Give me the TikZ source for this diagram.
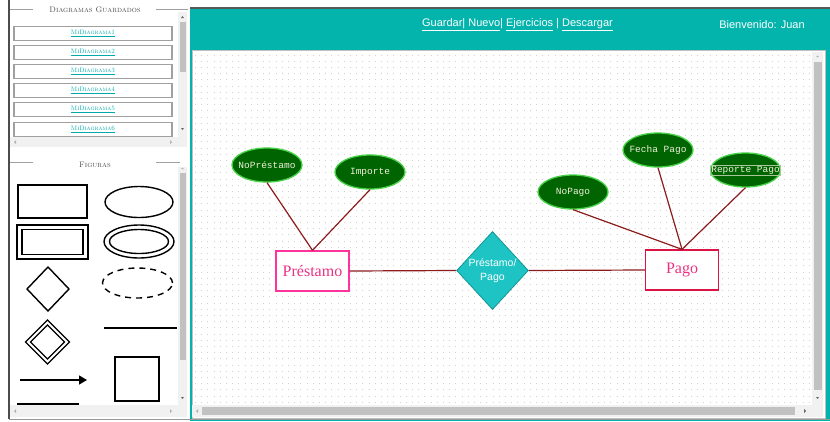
\documentclass[tikz,border=0pt]{standalone}
\usepackage{fontspec}
\newfontfamily\arialf{Liberation Sans}
\newfontfamily\courf{Liberation Mono}
\newfontfamily\timesf{Liberation Serif}
\usetikzlibrary{shapes.geometric,arrows.meta}
\definecolor{cabecera}{RGB}{3,180,173}
\definecolor{tealrombo}{RGB}{30,196,196}
\definecolor{tealborde}{RGB}{18,150,150}
\definecolor{verdeattr}{RGB}{0,100,0}
\definecolor{verdeborde}{RGB}{70,210,70}
\definecolor{textoattr}{RGB}{240,240,220}
\definecolor{lineaer}{RGB}{140,28,28}
\definecolor{rosaent}{RGB}{255,51,153}
\definecolor{carment}{RGB}{220,20,70}
\definecolor{textoent}{RGB}{235,50,130}
\definecolor{enlaceazul}{RGB}{0,170,170}
\definecolor{pista}{RGB}{241,241,241}
\definecolor{barra}{RGB}{193,193,193}
\definecolor{marco}{RGB}{160,160,160}
\newcommand{\atxt}[1]{\makebox[0pt]{#1}}
\begin{document}
\begin{tikzpicture}[x=1pt,y=-1pt,
	atributo/.style={ellipse,draw=verdeborde,line width=1.3pt,fill=verdeattr,minimum width=70pt,minimum height=34pt,inner sep=0pt,text=textoattr,font=\courf\fontsize{9.5}{11}\selectfont},
	cajatexto/.style={draw=textoattr!70!verdeattr,line width=0.5pt,inner sep=1pt,text=textoattr,font=\courf\fontsize{9.5}{11}\selectfont},
	entidad/.style={rectangle,line width=1.3pt,fill=white,minimum width=73pt,minimum height=40pt,inner sep=0pt,text=textoent,font=\timesf\fontsize{16}{18}\selectfont},
	relacion/.style={diamond,draw=tealborde,line width=0.8pt,fill=tealrombo,minimum width=69pt,minimum height=78pt,inner sep=0pt,text=white,align=center,font=\arialf\fontsize{10.5}{14}\selectfont},
	enlace/.style={draw=lineaer,line width=1.2pt},
	boton/.style={draw=marco,line width=1.2pt,fill=white,minimum width=158pt,minimum height=14pt,inner sep=0pt,text=enlaceazul,font=\fontsize{6.5}{7}\selectfont\scshape},
	titulo/.style={text=black!70,font=\fontsize{8}{9}\selectfont\scshape},
	figura/.style={line width=1.4pt,black},
	puntos/.style={draw=black!18,line width=1pt,dash pattern=on 1pt off 5.2pt},
]
	\useasboundingbox (0,0) rectangle (830,421);
	\fill[white] (0,0) rectangle (830,421);
	% panel de diagramas guardados
	\draw[black!70,line width=1.2pt] (9,0) -- (9,419);
	\draw[marco,line width=1pt] (10,9) -- (33,9) (156,9) -- (188,9);
	\node[titulo] (tituloguardados) at (95,10) {Diagramas Guardados};
	\foreach \n/\y in {1/33.5,2/52.5,3/71.5,4/90.5,5/109.5,6/129.5}
		\node[boton] (boton\n) at (93,\y) {\underline{MiDiagrama\n}};
	\fill[pista] (178,12) rectangle (187,137);
	\fill[barra] (179.5,22) rectangle (186,72);
	\fill[black!60] (181,18) -- (184,18) -- (182.5,16) -- cycle;
	\fill[black!60] (181,128) -- (184,128) -- (182.5,130) -- cycle;
	\fill[pista] (10,137) rectangle (187,147);
	\fill[black!30] (16,140) -- (16,144) -- (14,142) -- cycle;
	\fill[black!30] (170,140) -- (170,144) -- (172,142) -- cycle;
	% panel de figuras
	\draw[marco,line width=1pt] (10,162) -- (33,162) (156,162) -- (180,162);
	\node[titulo] (titulofiguras) at (95,165) {Figuras};
	\draw[figura] (18,185) rectangle (87,218);
	\draw[figura] (139,202) ellipse [x radius=34pt,y radius=15.5pt];
	\draw[figura] (17,225) rectangle (88,259);
	\draw[figura] (22,229.5) rectangle (83,254.5);
	\draw[figura] (139,241.5) ellipse [x radius=35pt,y radius=16.5pt];
	\draw[figura] (139,241.5) ellipse [x radius=29.5pt,y radius=12pt];
	\draw[figura] (48,267) -- (69,289) -- (48,311) -- (27,289) -- cycle;
	\draw[figura,dash pattern=on 6pt off 5pt] (137.5,283) ellipse [x radius=35pt,y radius=15pt];
	\draw[figura] (47.5,320) -- (69.5,342) -- (47.5,364) -- (25.5,342) -- cycle;
	\draw[figura] (47.5,325) -- (64.5,342) -- (47.5,359) -- (30.5,342) -- cycle;
	\draw[figura] (104,328) -- (177,328);
	\draw[figura,-{Triangle[length=8pt,width=9pt]}] (20,380) -- (87,380);
	\draw[figura] (115,357) rectangle (159,401);
	\draw[figura] (17,404) -- (79,404);
	\fill[pista] (178,167) rectangle (187,405);
	\fill[barra] (179.5,173) rectangle (186,360);
	\fill[black!30] (181,169) -- (184,169) -- (182.5,167.5) -- cycle;
	\fill[black!60] (181,397) -- (184,397) -- (182.5,399) -- cycle;
	\fill[pista] (10,405) rectangle (187,417);
	\fill[black!30] (16,409) -- (16,413) -- (14,411) -- cycle;
	\fill[black!30] (170,409) -- (170,413) -- (172,411) -- cycle;
	% cabecera y lienzo
	\fill[cabecera] (190,8) rectangle (830,421);
	\draw[black!65,line width=1.5pt] (190,8) -- (830,8);
	\node[text=white,font=\arialf\fontsize{11}{13}\selectfont] (menu) at (517.5,25) {\underline{Guardar| Nuevo}| \underline{Ejercicios} | \underline{Descargar}};
	\node[text=white,font=\arialf\fontsize{11}{13}\selectfont] (bienvenida) at (762,25) {Bienvenido: Juan};
	\fill[white] (192,50) rectangle (825,418);
	\draw[black!25] (192,50) rectangle (825,418);
	\foreach \i in {0,...,56}
		\draw[puntos] (195,{55+6.2*\i}) -- (811,{55+6.2*\i});
	\fill[pista] (812,52) rectangle (823,405);
	\fill[barra] (813.5,62) rectangle (821.5,390);
	\fill[black!30] (816,57) -- (819,57) -- (817.5,55.5) -- cycle;
	\fill[black!60] (816,397) -- (819,397) -- (817.5,399) -- cycle;
	\fill[pista] (192,405) rectangle (823,417);
	\fill[barra] (202,407) rectangle (795,415);
	\fill[black!30] (198,409) -- (198,413) -- (196,411) -- cycle;
	\fill[black!60] (804,409) -- (804,413) -- (806,411) -- cycle;
	\draw[black!40,line width=1pt] (9,419.5) -- (830,419.5);
	% diagrama
	\node[atributo] (noprestamo) at (267,165) {\atxt{NoPréstamo}};
	\node[atributo] (importe) at (370,172) {\atxt{Importe}};
	\node[entidad,draw=rosaent] (prestamo) at (312.5,271) {Préstamo};
	\node[relacion] (prestamopago) at (492.5,270.5) {Préstamo/\\Pago};
	\node[entidad,draw=carment] (pago) at (682,270) {Pago};
	\node[atributo] (nopago) at (573,192) {\atxt{NoPago}};
	\node[atributo] (fechapago) at (658,150) {\atxt{Fecha Pago}};
	\node[atributo] (reportepago) at (745.5,170) {};
	\node[cajatexto] (reportetexto) at (reportepago.center) {Reporte Pago};
	\draw[enlace] (noprestamo.south) -- (prestamo.north);
	\draw[enlace] (importe.south) -- (prestamo.north);
	\draw[enlace] (prestamo.east) -- (prestamopago.west);
	\draw[enlace] (prestamopago.east) -- (pago.west);
	\draw[enlace] (nopago.south) -- (pago.north);
	\draw[enlace] (fechapago.south) -- (pago.north);
	\draw[enlace] (reportepago.south) -- (pago.north);
\end{tikzpicture}
\end{document}
